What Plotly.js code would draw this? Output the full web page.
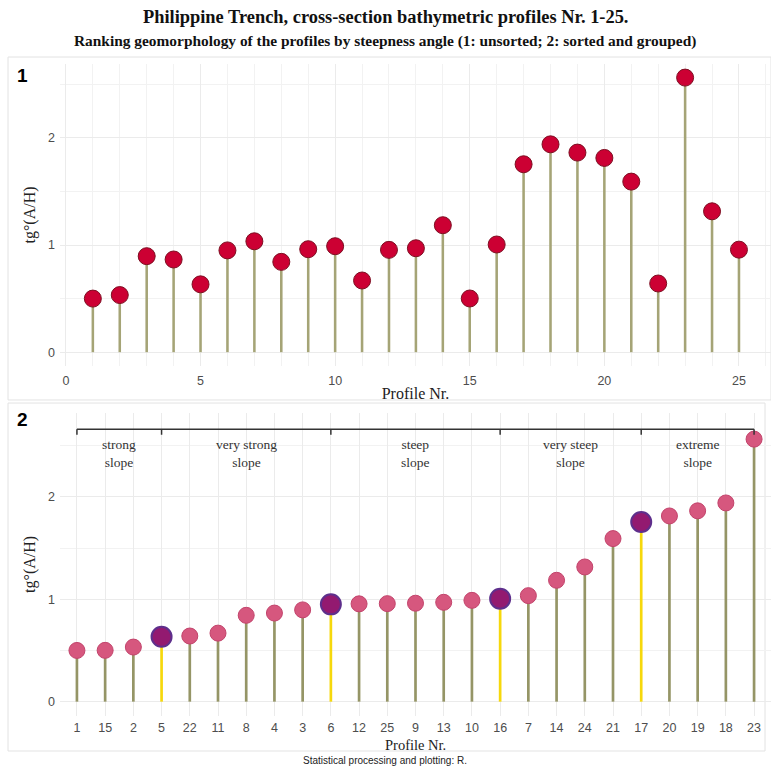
<!DOCTYPE html>
<html>
<head>
<meta charset="utf-8">
<script src="https://cdn.plot.ly/plotly-3.0.1.min.js"></script>
<style>html,body{margin:0;padding:0;background:#fff;}#chart{width:771px;height:767px;}</style>
</head>
<body>
<div id="chart"></div>
<script>
// Profile numbers and steepness tg°(A/H) values
const profiles = [1,2,3,4,5,6,7,8,9,10,11,12,13,14,15,16,17,18,19,20,21,22,23,24,25];
const steepness = [0.50,0.533,0.896,0.865,0.633,0.950,1.035,0.843,0.961,0.989,0.669,0.955,0.970,1.185,0.501,1.005,1.754,1.940,1.863,1.813,1.592,0.641,2.563,1.315,0.957];

// Group boundaries (profiles highlighted in the sorted panel) and group names
const boundaryProfiles = [5, 6, 16, 17];
const groupNames = [["strong","slope"],["very strong","slope"],["steep","slope"],["very steep","slope"],["extreme","slope"]];
const bracketLevel = 2.66;

// Sorted data
const order = profiles.map((p,i)=>i).sort((a,b)=>steepness[a]-steepness[b]);
const sortedLabels = order.map(i=>String(profiles[i]));
const sortedValues = order.map(i=>steepness[i]);
const isBoundary = order.map(i=>boundaryProfiles.includes(profiles[i]));

const stemOlive = '#a5a476';
const stemYellow = '#f6d80c';

const traces = [
  {type:'bar', x:profiles, y:steepness, width:0.095, marker:{color:stemOlive, line:{width:0}},
   xaxis:'x', yaxis:'y', hoverinfo:'skip', showlegend:false},
  {type:'scatter', mode:'markers', x:profiles, y:steepness,
   marker:{size:17, color:'#cc0033', opacity:1, line:{color:'#7d0f22', width:1}},
   xaxis:'x', yaxis:'y', showlegend:false},
  {type:'bar', x:sortedLabels, y:sortedValues, width:0.095,
   marker:{color:isBoundary.map(b=>b?stemYellow:'#959566'), line:{width:0}},
   xaxis:'x2', yaxis:'y2', hoverinfo:'skip', showlegend:false},
  {type:'scatter', mode:'markers', x:sortedLabels, y:sortedValues,
   marker:{size:isBoundary.map(b=>b?20:16), opacity:1,
           color:isBoundary.map(b=>b?'#931a70':'#d6577e'),
           line:{color:isBoundary.map(b=>b?'#5e2f8c':'#c2436b'), width:isBoundary.map(b=>b?2:1)}},
   xaxis:'x2', yaxis:'y2', showlegend:false}
];

const bIdx = [0].concat(boundaryProfiles.map(p=>sortedLabels.indexOf(String(p)))).concat([sortedLabels.length-1]);
const shapes = [
  {type:'rect', xref:'paper', yref:'paper', x0:-0.0731, x1:1.0, y0:1.0107, y1:0.4847, line:{color:'#e3e3e3', width:1}, layer:'below'},
  {type:'rect', xref:'paper', yref:'paper', x0:-0.0731, x1:0.9916, y0:0.480, y1:-0.0537, line:{color:'#e3e3e3', width:1}, layer:'below'},
  {type:'line', xref:'x2', yref:'y2', x0:bIdx[0], x1:bIdx[bIdx.length-1], y0:bracketLevel, y1:bracketLevel, line:{color:'#333', width:1.5}}
];
bIdx.forEach(ix=>{
  shapes.push({type:'line', xref:'x2', yref:'y2', x0:ix, x1:ix, y0:bracketLevel, y1:bracketLevel-0.055, line:{color:'#333', width:1.5}});
});

const cx = (385-60)/711;
const titleFont = {family:'Liberation Serif, Times New Roman, serif', size:16, color:'#222'};
const annotations = [
  {text:'<b>Philippine Trench, cross-section bathymetric profiles Nr. 1-25.</b>', xref:'paper', yref:'paper', x:cx, y:1.072, xanchor:'center', yanchor:'middle', showarrow:false,
   font:{family:'Liberation Serif, Times New Roman, serif', size:18.4, color:'#111'}},
  {text:'<b>Ranking geomorphology of the profiles by steepness angle (1: unsorted; 2: sorted and grouped)</b>', xref:'paper', yref:'paper', x:cx, y:1.035, xanchor:'center', yanchor:'middle', showarrow:false,
   font:{family:'Liberation Serif, Times New Roman, serif', size:15.4, color:'#111'}},
  {text:'<b>1</b>', xref:'paper', yref:'paper', x:-0.053, y:0.983, xanchor:'center', yanchor:'middle', showarrow:false,
   font:{family:'Liberation Sans, Arial, sans-serif', size:19, color:'#000'}},
  {text:'<b>2</b>', xref:'paper', yref:'paper', x:-0.053, y:0.454, xanchor:'center', yanchor:'middle', showarrow:false,
   font:{family:'Liberation Sans, Arial, sans-serif', size:19, color:'#000'}},
  // bottom panel x-axis title
  {text:'Profile Nr.', xref:'paper', yref:'paper', x:0.5, y:-0.0445, xanchor:'center', yanchor:'middle', showarrow:false,
   font:{family:titleFont.family, size:14.5, color:titleFont.color}},
  {text:'Statistical processing and plotting: R.', xref:'paper', yref:'paper', x:cx, y:-0.0675, xanchor:'center', yanchor:'middle', showarrow:false,
   font:{family:'Liberation Sans, Arial, sans-serif', size:10, color:'#222'}}
];
for (let g=0; g<groupNames.length; g++){
  annotations.push({text:groupNames[g].join('<br>'), xref:'x2', yref:'y2', x:(bIdx[g]+bIdx[g+1])/2, y:bracketLevel-0.06,
    xanchor:'center', yanchor:'top', showarrow:false, align:'center',
    font:{family:'Liberation Serif, Times New Roman, serif', size:13.5, color:'#333'}});
}

const gridC = '#ebebeb';
const tickFont = {family:'Liberation Sans, Arial, sans-serif', size:12.5, color:'#4d4d4d'};

const layout = {
  width:771, height:767,
  margin:{l:60, r:0, t:64, b:51},
  paper_bgcolor:'#fff', plot_bgcolor:'#fff',
  barmode:'overlay',
  xaxis:{domain:[0,1], range:[-0.22,26.19], tickvals:[0,5,10,15,20,25], showgrid:true, gridcolor:gridC, gridwidth:1,
         minor:{dtick:1, tick0:0, showgrid:true, gridcolor:'#f2f2f2', gridwidth:1},
         zeroline:false, showline:false, ticks:'', tickfont:tickFont, ticklabelstandoff:6,
         title:{text:'Profile Nr.', font:titleFont, standoff:0}, anchor:'y'},
  yaxis:{domain:[0.537,1], range:[-0.128,2.69], tickvals:[0,1,2], showgrid:true, gridcolor:gridC,
         minor:{tickvals:[0.5,1.5,2.5], showgrid:true, gridcolor:'#f2f2f2'},
         zeroline:false, showline:false, ticks:'', tickfont:tickFont, ticklabelstandoff:4,
         title:{text:'tg°(A/H)', font:titleFont, standoff:8}, anchor:'x'},
  xaxis2:{domain:[0,1], type:'category', categoryorder:'array', categoryarray:sortedLabels, range:[-0.6,24.6],
          showgrid:true, gridcolor:gridC, zeroline:false, showline:false, ticks:'', tickfont:tickFont, ticklabelstandoff:2,
          anchor:'y2'},
  yaxis2:{domain:[0,0.465], range:[-0.14,2.82], tickvals:[0,1,2], showgrid:true, gridcolor:gridC,
          minor:{tickvals:[0.5,1.5,2.5], showgrid:true, gridcolor:'#f2f2f2'},
          zeroline:false, showline:false, ticks:'', tickfont:tickFont, ticklabelstandoff:4,
          title:{text:'tg°(A/H)', font:titleFont, standoff:8}, anchor:'x2'},
  shapes:shapes,
  annotations:annotations,
  showlegend:false
};

Plotly.newPlot('chart', traces, layout, {displayModeBar:false, staticPlot:true});
</script>
</body>
</html>
